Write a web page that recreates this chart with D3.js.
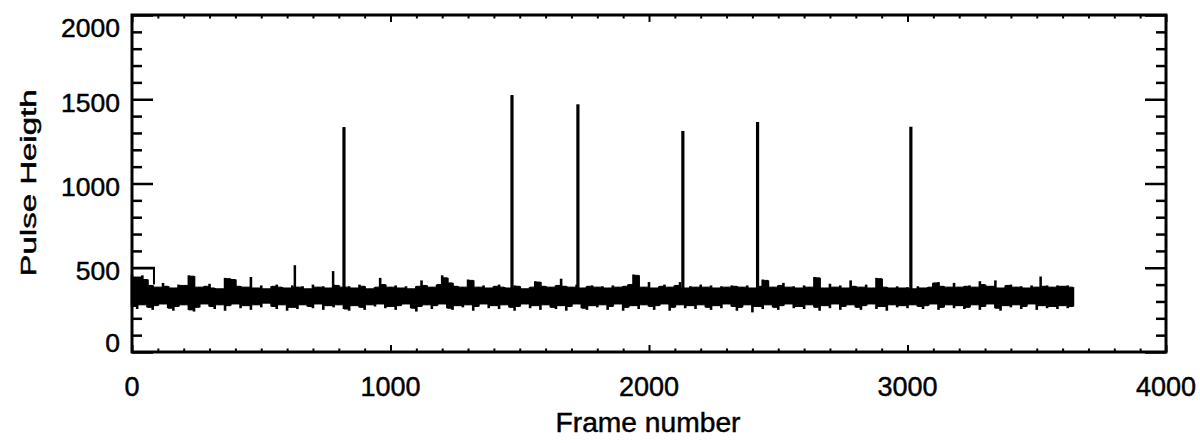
<!DOCTYPE html>
<html><head><meta charset="utf-8">
<script src="https://cdn.jsdelivr.net/npm/d3@7"></script>
<style>body{margin:0;background:#fff}</style>
</head><body><svg id="c" width="1200" height="443"></svg>
<script>
// ---- data ----
const xTickValues = [0, 1000, 2000, 3000, 4000];
const yTickValues = [0, 500, 1000, 1500, 2000];
const xTitle = "Frame number";
const yTitle = "Pulse Heigth";
const bandStep = 20; // frames between envelope samples
const noiseMax = [
  460,445,455,430,395,385,410,390,380,400,
  395,455,450,385,390,405,380,375,440,435,
  430,390,385,445,380,395,375,390,400,385,
  380,395,385,390,375,400,385,390,380,400,
  395,385,390,380,400,390,375,385,440,400,
  385,395,380,390,375,390,425,395,385,400,
  455,440,410,390,385,430,425,385,395,380,
  390,400,385,380,395,390,375,385,420,415,
  390,385,395,435,390,385,400,380,390,395,
  385,390,380,395,385,390,400,460,455,385,
  415,380,390,400,385,395,415,380,390,385,
  400,385,395,380,390,385,395,390,385,395,
  380,390,430,425,385,395,410,385,390,380,
  395,385,445,440,380,405,385,395,380,425,
  390,385,400,380,440,435,385,380,390,380,
  385,375,390,380,385,410,415,390,385,410,
  385,390,395,385,420,400,390,425,380,395,
  400,385,390,380,395,385,390,395,385,395,
  390,395,385
];
const noiseMin = [
  270,255,280,265,250,275,285,260,245,270,
  280,250,240,265,285,270,255,280,245,275,
  285,260,275,250,280,265,290,270,255,280,
  245,265,255,280,270,260,285,250,275,265,
  280,255,245,275,265,250,280,270,285,260,
  270,250,275,285,260,240,270,280,255,275,
  285,260,250,275,265,280,245,270,285,260,
  275,255,280,265,245,270,285,260,275,250,
  280,265,255,275,245,270,285,260,250,275,
  265,280,250,270,285,245,265,275,255,280,
  270,250,275,285,245,265,280,260,275,255,
  280,265,250,275,260,285,270,245,265,280,
  235,270,255,280,265,250,275,285,260,270,
  255,280,265,245,275,260,285,250,270,280,
  265,250,275,285,255,270,245,280,265,275,
  260,280,270,255,275,285,250,265,280,260,
  275,255,265,280,250,270,285,260,245,275,
  265,280,255,270,285,250,275,260,270,255,
  275,260,270
];
const spikeFrames  = [630, 778, 820, 1470, 1725, 2131, 2420, 3013, 3515];
const spikeHeights = [515, 480, 1335, 1525, 1470, 1312, 1365, 1337, 448];
const startFrames = [0, 85, 85];
const startValues = [500, 500, 400];

// ---- drawing ----
const svg = d3.select('#c');
svg.append('rect').attr('width',1200).attr('height',443).attr('fill','#fff');
const x = d3.scaleLinear().domain([0, 4000]).range([132, 1166]);
const y = d3.scaleLinear().domain([0, 2000]).range([352, 15]);

const band = noiseMax.map((v, i) => ({f: i * bandStep, hi: v, lo: noiseMin[i]}));
// solid core between neighbouring samples
const core = band.map((d, i) => {
  const n = band[Math.min(i + 1, band.length - 1)];
  return {f: d.f, hi: Math.min(d.hi, n.hi), lo: Math.max(d.lo, n.lo)};
});
svg.append('path').datum(core)
  .attr('d', d3.area().curve(d3.curveStepAfter)
    .x(d => x(d.f)).y0(d => y(d.lo)).y1(d => y(d.hi)))
  .attr('fill', '#000').attr('stroke', '#000').attr('stroke-width', 1);
// individual excursions at each sample
svg.append('g').selectAll('line').data(band).join('line')
  .attr('x1', d => x(d.f)).attr('x2', d => x(d.f))
  .attr('y1', d => y(d.lo)).attr('y2', d => y(d.hi))
  .attr('stroke', '#000').attr('stroke-width', 2.6);

const line = d3.line().x(d => x(d[0])).y(d => y(d[1]));
spikeFrames.forEach((f, i) => {
  svg.append('path').attr('d', line([[f, 330], [f, spikeHeights[i]]]))
    .attr('stroke', '#000').attr('stroke-width', spikeHeights[i] > 1000 ? 3.2 : 2.5)
    .attr('fill', 'none');
});
svg.append('path').attr('d', line(startFrames.map((f, i) => [f, startValues[i]])))
  .attr('stroke', '#000').attr('stroke-width', 2).attr('fill', 'none');

// axes (ticks inward on all four sides)
const yMinor = d3.range(0, 2001, 100).filter(v => v % 500 !== 0);
const xMinor = d3.range(0, 4001, 100).filter(v => v % 1000 !== 0);
function addAxis(axis, tx, ty, sw) {
  const g = svg.append('g').attr('transform', `translate(${tx},${ty})`).call(axis);
  g.select('.domain').remove();
  g.selectAll('text').remove();
  g.selectAll('line').attr('stroke', '#000').attr('stroke-width', sw);
}
addAxis(d3.axisRight(y).tickValues(yTickValues).tickSize(21), 132, 0, 2.5);
addAxis(d3.axisRight(y).tickValues(yMinor).tickSize(10), 132, 0, 2.5);
addAxis(d3.axisLeft(y).tickValues(yTickValues).tickSize(21), 1166, 0, 2.5);
addAxis(d3.axisLeft(y).tickValues(yMinor).tickSize(10), 1166, 0, 2.5);
addAxis(d3.axisTop(x).tickValues(xTickValues).tickSize(7), 0, 352, 2);
addAxis(d3.axisTop(x).tickValues(xMinor).tickSize(3.5), 0, 352, 2);
addAxis(d3.axisBottom(x).tickValues(xTickValues).tickSize(7), 0, 15, 2);
addAxis(d3.axisBottom(x).tickValues(xMinor).tickSize(3.5), 0, 15, 2);

svg.append('rect').attr('x', x(0)).attr('y', y(2000))
  .attr('width', x(4000) - x(0)).attr('height', y(0) - y(2000))
  .attr('fill', 'none').attr('stroke', '#000').attr('stroke-width', 3);

const font = "'Liberation Sans', Arial, sans-serif";
function bold(sel) { return sel.attr('fill', '#000').attr('stroke', '#000').attr('stroke-width', 0.45); }
bold(svg.append('g').selectAll('text').data(xTickValues).join('text')
  .attr('x', d => x(d)).attr('y', 396)
  .attr('text-anchor', 'middle').attr('font-family', font).attr('font-size', 27)
  .text(d => d));
const yLast = yTickValues.length - 1;
bold(svg.append('g').selectAll('text').data(yTickValues).join('text')
  .attr('x', 120)
  .attr('y', (d, i) => y(d) + (i === 0 ? 0 : i === yLast ? 22 : 12.5))
  .attr('text-anchor', 'end').attr('font-family', font).attr('font-size', 26.5)
  .text(d => d));

bold(svg.append('text').attr('x', 648).attr('y', 432).attr('text-anchor', 'middle')
  .attr('font-family', font).attr('font-size', 27)
  .attr('textLength', 185).attr('lengthAdjust', 'spacingAndGlyphs')
  .text(xTitle));
bold(svg.append('text').attr('transform', 'translate(36,183) rotate(-90)')
  .attr('text-anchor', 'middle').attr('font-family', font).attr('font-size', 22)
  .attr('textLength', 187).attr('lengthAdjust', 'spacingAndGlyphs')
  .text(yTitle));
</script>
</body></html>
